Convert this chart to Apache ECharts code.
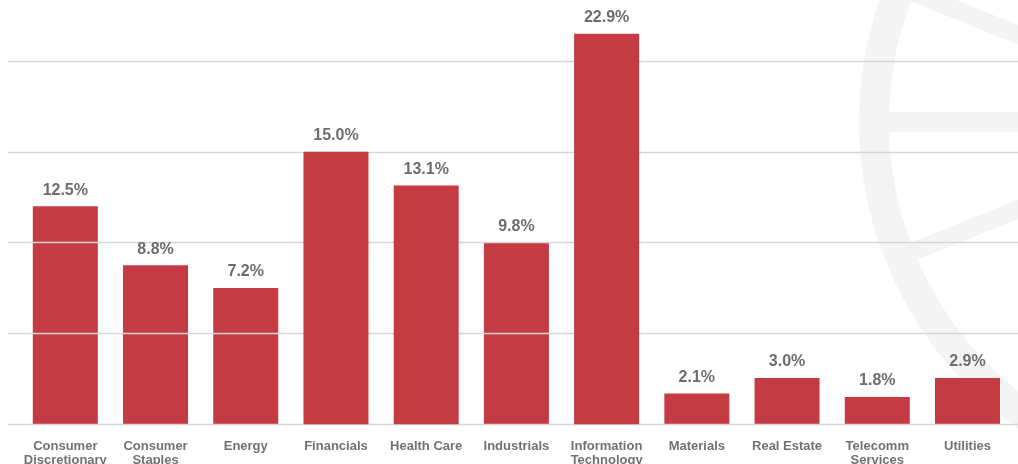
<!DOCTYPE html>
<html>
<head>
<meta charset="utf-8">
<script src="https://cdn.jsdelivr.net/npm/echarts@6/dist/echarts.min.js"></script>
<style>
html,body{margin:0;padding:0;background:#fff;}
#chart{width:1018px;height:464px;}
</style>
</head>
<body>
<div id="chart"></div>
<script>
const categories = ["Consumer\nDiscretionary","Consumer\nStaples","Energy","Financials","Health Care","Industrials","Information\nTechnology","Materials","Real Estate","Telecomm\nServices","Utilities"];
const barValues = [12.0, 8.75, 7.5, 15.0, 13.15, 10.0, 21.5, 1.7, 2.55, 1.5, 2.55];
const valueLabels = ["12.5%","8.8%","7.2%","15.0%","13.1%","9.8%","22.9%","2.1%","3.0%","1.8%","2.9%"];
// in the reference, gridlines show through some bars but not others
const gridlineOverBar = [true, true, true, false, false, true, false, true, true, true, true];

const chart = echarts.init(document.getElementById('chart'), null, {renderer:'canvas'});
const font = '"Liberation Sans", Arial, Helvetica, sans-serif';
const wmColor = '#f4f4f4';
const cx = 1234, cy = 122;
function spoke(angleDeg, len, w){
  const a = angleDeg*Math.PI/180;
  return {type:'line', z:-100, silent:true,
    shape:{x1:cx, y1:cy, x2:cx - Math.cos(a)*len, y2:cy - Math.sin(a)*len},
    style:{stroke:wmColor, lineWidth:w}};
}
const under = barValues.map((v,i)=>gridlineOverBar[i] ? v : '-');
const over = barValues.map((v,i)=>gridlineOverBar[i] ? '-' : v);

chart.setOption({
  animation:false,
  backgroundColor:'#ffffff',
  graphic:[
    {type:'circle', z:-100, silent:true, shape:{cx:cx, cy:cy, r:360}, style:{fill:null, stroke:wmColor, lineWidth:30}},
    spoke(0, 350, 20),
    spoke(22, 350, 18),
    spoke(-22, 350, 18)
  ],
  grid:[
    {left:8, right:0, top:61, bottom:39.7, outerBoundsMode:'none', containLabel:false},
    {left:20.2, right:5.4, top:61, bottom:39.7, outerBoundsMode:'none', containLabel:false}
  ],
  xAxis:[
    {gridIndex:0, type:'value', show:false, min:0, max:1},
    {gridIndex:1, type:'category', data:categories,
     axisLine:{show:false}, axisTick:{show:false},
     axisLabel:{interval:0, margin:15, color:'#717171', fontFamily:font, fontWeight:'bold', fontSize:13, lineHeight:14}}
  ],
  yAxis:[
    {gridIndex:0, type:'value', min:0, max:20, interval:5, z:5,
     axisLine:{show:false}, axisTick:{show:false}, axisLabel:{show:false},
     splitLine:{show:true, lineStyle:{color:'#d6d6d6', width:1.3}}},
    {gridIndex:1, type:'value', min:0, max:20, interval:5,
     axisLine:{show:false}, axisTick:{show:false}, axisLabel:{show:false},
     splitLine:{show:false}}
  ],
  series:[{
    type:'bar', xAxisIndex:1, yAxisIndex:1, clip:false,
    data:under, barWidth:65, barGap:'-100%',
    itemStyle:{color:'#c43b43'}, z:2
  },{
    type:'bar', xAxisIndex:1, yAxisIndex:1, clip:false,
    data:over, barWidth:65, barGap:'-100%',
    itemStyle:{color:'#c43b43'}, z:8
  },{
    type:'bar', xAxisIndex:1, yAxisIndex:1, clip:false,
    data:barValues, barWidth:65, barGap:'-100%', silent:true,
    itemStyle:{color:'rgba(0,0,0,0)'}, z:10,
    label:{show:true, position:'top', distance:8,
      color:'#6d6d6d', fontFamily:font, fontWeight:'bold', fontSize:16,
      formatter:(p)=>valueLabels[p.dataIndex]}
  }]
});
</script>
</body>
</html>
